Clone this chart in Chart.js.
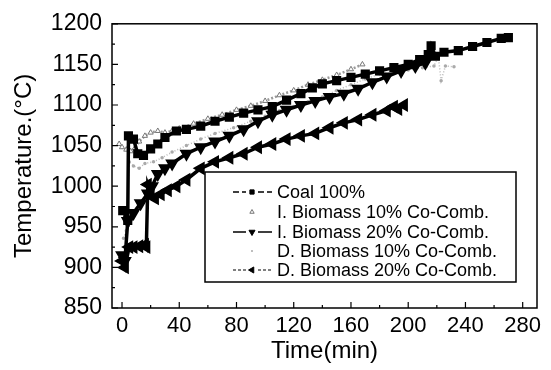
<!DOCTYPE html>
<html>
<head>
<meta charset="utf-8">
<script src="https://cdn.jsdelivr.net/npm/chart.js@4.4.1/dist/chart.umd.min.js"></script>
<style>
  html, body { margin: 0; padding: 0; background: #fff; }
  #wrap { width: 551px; height: 370px; }
</style>
</head>
<body>
<div id="wrap"><canvas id="tempchart"></canvas></div>
<script>
// tick labels
const xTicks = [0, 40, 80, 120, 160, 200, 240, 280];
const yTicks = [850, 900, 950, 1000, 1050, 1100, 1150, 1200];

const seriesNames = [
  'Coal 100%',
  'I. Biomass 10% Co-Comb.',
  'I. Biomass 20% Co-Comb.',
  'D. Biomass 10% Co-Comb.',
  'D. Biomass 20% Co-Comb.'
];

// Coal 100%
const coalTime = [0.5, 4, 4.5, 8, 11, 15, 20, 25, 30, 38, 45, 55, 65, 75, 85, 95, 105, 115, 125, 133, 140, 150, 160, 170, 180, 190, 200, 208, 214, 216, 219, 225, 235, 245, 255, 265, 270];
const coalTemp = [970, 958, 1062, 1058, 1040, 1038, 1046, 1052, 1060, 1068, 1070, 1074, 1080, 1085, 1090, 1094, 1098, 1106, 1114, 1121, 1126, 1130, 1134, 1138, 1142, 1146, 1150, 1156, 1162, 1173, 1160, 1165, 1167, 1172, 1177, 1182, 1183];

// I. Biomass 10%
const iBio10Time = [-2, 0, 3, 6, 9, 12, 16, 20, 25, 30, 35, 40, 50, 60, 70, 80, 90, 100, 110, 120, 130, 140, 150, 160, 168];
const iBio10Temp = [1052, 1048, 1045, 1043, 1047, 1055, 1062, 1066, 1068, 1066, 1068, 1071, 1077, 1083, 1088, 1094, 1099, 1105, 1112, 1118, 1125, 1131, 1137, 1144, 1150];

// I. Biomass 20%
const iBio20Time = [0, 2, 4, 8, 13, 18, 21, 25, 30, 35, 45, 55, 65, 75, 85, 95, 105, 115, 125, 135, 145, 155, 165, 175, 185, 195, 205, 212];
const iBio20Temp = [915, 908, 957, 967, 979, 991, 1000, 1015, 1022, 1028, 1040, 1048, 1055, 1062, 1070, 1080, 1088, 1094, 1100, 1105, 1110, 1114, 1120, 1128, 1135, 1142, 1148, 1152];

// D. Biomass 10%
const dBio10Time = [1, 3, 5, 8, 12, 16, 22, 28, 35, 45, 55, 65, 78, 90, 100, 110, 120, 130, 140, 150, 160, 170, 180, 190, 200, 210, 218, 221, 223, 226, 232];
const dBio10Temp = [936, 945, 1030, 1025, 1022, 1028, 1030, 1035, 1042, 1050, 1058, 1065, 1072, 1080, 1086, 1093, 1098, 1104, 1110, 1118, 1125, 1132, 1138, 1140, 1143, 1146, 1148, 1160, 1130, 1148, 1147];

// D. Biomass 20%
const dBio20Time = [0, 2, 5, 8, 12, 16, 17, 18, 20, 23, 27, 32, 38, 45, 55, 65, 75, 85, 95, 105, 115, 125, 135, 145, 155, 165, 175, 185, 190, 193, 197];
const dBio20Temp = [908, 900, 925, 925, 926, 928, 925, 1002, 992, 985, 990, 995, 1000, 1008, 1022, 1030, 1035, 1040, 1048, 1052, 1058, 1062, 1065, 1072, 1078, 1082, 1088, 1093, 1098, 1095, 1100];

const FONT = "'Liberation Sans', Arial, sans-serif";

function pts(ts, vs) {
  return ts.map((t, i) => ({ x: t, y: vs[i] }));
}

const datasets = [
  {
    label: seriesNames[0], data: pts(coalTime, coalTemp),
    borderColor: '#000', backgroundColor: '#000', borderWidth: 3.5,
    pointStyle: 'rect', pointRadius: 4, pointBackgroundColor: '#000', pointBorderColor: '#000',
    legendDash: [6, 3], legendLine: true, legendRadius: 3
  },
  {
    label: seriesNames[1], data: pts(iBio10Time, iBio10Temp),
    borderColor: '#9a9a9a', backgroundColor: '#fff', borderWidth: 2.5, borderDash: [2, 2],
    pointStyle: 'triangle', pointRadius: 3, pointBackgroundColor: '#fff', pointBorderColor: '#777', pointBorderWidth: 1,
    legendLine: false, legendRadius: 2.5
  },
  {
    label: seriesNames[2], data: pts(iBio20Time, iBio20Temp),
    borderColor: '#000', backgroundColor: '#000', borderWidth: 3.5,
    pointStyle: 'triangle', pointRotation: 180, pointRadius: 4.5, pointBackgroundColor: '#000', pointBorderColor: '#000',
    legendDash: [], legendLine: true, legendRadius: 3.5
  },
  {
    label: seriesNames[3], data: pts(dBio10Time, dBio10Temp),
    borderColor: '#b8b8b8', backgroundColor: '#b8b8b8', borderWidth: 1.5, borderDash: [1, 2],
    pointStyle: 'circle', pointRadius: 1, pointBackgroundColor: '#aaa', pointBorderColor: '#aaa',
    legendLine: false, legendRadius: 0.6
  },
  {
    label: seriesNames[4], data: pts(dBio20Time, dBio20Temp),
    borderColor: '#000', backgroundColor: '#000', borderWidth: 3.5,
    pointStyle: 'triangle', pointRotation: 270, pointRadius: 4.5, pointBackgroundColor: '#000', pointBorderColor: '#000',
    legendDash: [3, 2], legendLine: true, legendColor: '#555', legendRadius: 3.5
  }
];

// frame + inward ticks + boxed legend
const framePlugin = {
  id: 'frame',
  afterDraw(chart) {
    const { ctx, chartArea: a, scales } = chart;
    ctx.save();
    ctx.strokeStyle = '#000';
    ctx.lineWidth = 1.5;
    ctx.strokeRect(a.left, a.top, a.right - a.left, a.bottom - a.top);

    ctx.lineWidth = 1.2;
    ctx.beginPath();
    for (let v = 0; v <= 280; v += 20) {
      const px = scales.x.getPixelForValue(v);
      const len = (v % 40 === 0) ? 6 : 3;
      ctx.moveTo(px, a.bottom);
      ctx.lineTo(px, a.bottom - len);
    }
    for (let v = 850; v <= 1200; v += 25) {
      const py = scales.y.getPixelForValue(v);
      const len = (v % 50 === 0) ? 6 : 3;
      ctx.moveTo(a.left, py);
      ctx.lineTo(a.left + len, py);
    }
    ctx.stroke();

    // legend box
    const bx = 205, by = 172, bw = 311, bh = 110;
    ctx.fillStyle = '#fff';
    ctx.fillRect(bx, by, bw, bh);
    ctx.lineWidth = 1.5;
    ctx.strokeRect(bx, by, bw, bh);

    const rows = [192, 212, 232, 251, 270];
    chart.data.datasets.forEach((ds, i) => {
      const y = rows[i];
      if (ds.legendLine) {
        ctx.save();
        ctx.strokeStyle = ds.legendColor || '#000';
        ctx.lineWidth = 1.3;
        ctx.setLineDash(ds.legendDash || []);
        ctx.beginPath();
        ctx.moveTo(233, y); ctx.lineTo(246, y);
        ctx.moveTo(258, y); ctx.lineTo(272, y);
        ctx.stroke();
        ctx.restore();
      }
      ctx.save();
      ctx.fillStyle = ds.pointBackgroundColor;
      ctx.strokeStyle = ds.pointBorderColor;
      ctx.lineWidth = ds.pointBorderWidth || 1;
      Chart.helpers.drawPoint(ctx, {
        pointStyle: ds.pointStyle,
        radius: ds.legendRadius,
        rotation: ds.pointRotation || 0,
        borderWidth: ds.pointBorderWidth || 1
      }, 252, y);
      ctx.restore();

      ctx.fillStyle = '#000';
      ctx.font = '18px ' + FONT;
      ctx.textBaseline = 'middle';
      ctx.textAlign = 'left';
      ctx.fillText(ds.label, 277, y + 1);
    });
    ctx.restore();
  }
};

new Chart(document.getElementById('tempchart'), {
  type: 'line',
  data: { datasets: datasets },
  plugins: [framePlugin],
  options: {
    responsive: true,
    maintainAspectRatio: false,
    animation: false,
    layout: { padding: { top: 20, right: 14, left: 0, bottom: 0 } },
    plugins: {
      legend: { display: false },
      tooltip: { enabled: false }
    },
    elements: { line: { tension: 0 } },
    scales: {
      x: {
        type: 'linear', min: -7, max: 290,
        grid: { display: false, drawTicks: false },
        border: { display: false },
        afterBuildTicks: s => { s.ticks = xTicks.map(v => ({ value: v })); },
        afterFit: s => { s.height = 62; },
        ticks: { color: '#000', font: { family: FONT, size: 22 }, padding: 5, maxRotation: 0, autoSkip: false, callback: v => String(v) },
        title: { display: true, text: 'Time(min)', color: '#000', font: { family: FONT, size: 24 }, padding: { top: 0, bottom: 4 } }
      },
      y: {
        type: 'linear', min: 850, max: 1200,
        grid: { display: false, drawTicks: false },
        border: { display: false },
        afterBuildTicks: s => { s.ticks = yTicks.map(v => ({ value: v })); },
        afterFit: s => { s.width = 112; },
        ticks: { color: '#000', font: { family: FONT, size: 23 }, padding: 10, autoSkip: false, callback: v => String(v) },
        title: { display: true, text: 'Temperature.(°C)', color: '#000', font: { family: FONT, size: 24 }, padding: { top: 10, bottom: 0 } }
      }
    }
  }
});
</script>
</body>
</html>
